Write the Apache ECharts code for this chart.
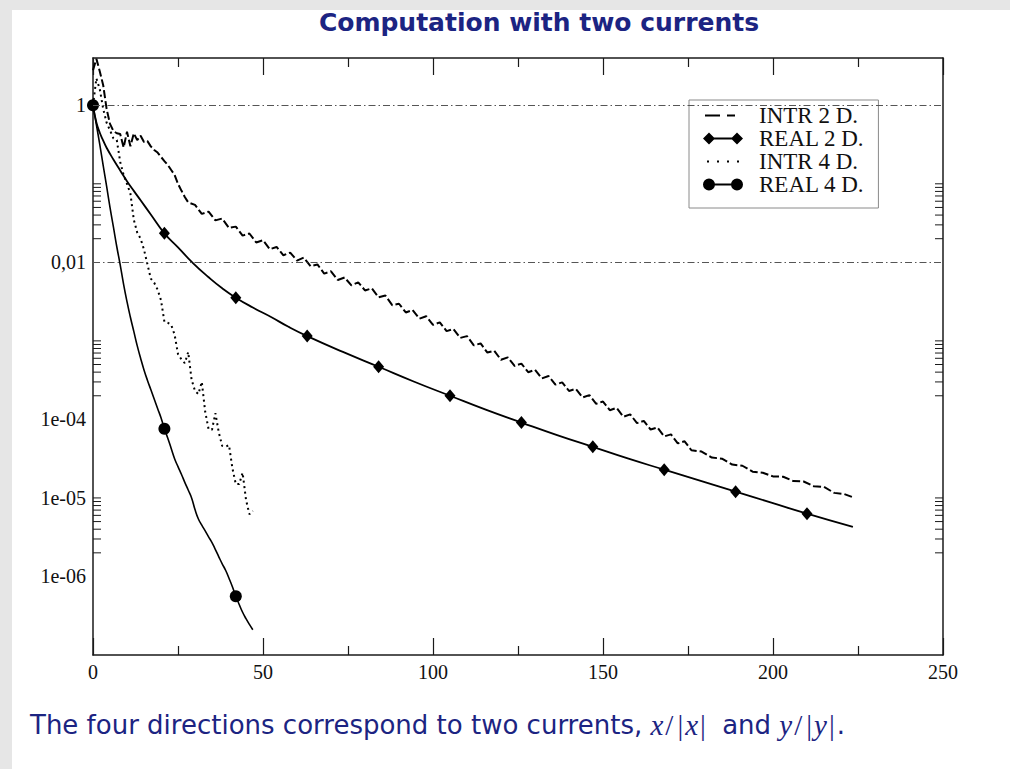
<!DOCTYPE html>
<html>
<head>
<meta charset="utf-8">
<script src="https://cdn.jsdelivr.net/npm/echarts@6/dist/echarts.min.js"></script>
<style>
html,body{margin:0;padding:0;width:1010px;height:769px;background:#e6e6e6;overflow:hidden}
#paper{position:absolute;left:12px;top:10px;right:0;bottom:0;background:#ffffff}
#chart{position:absolute;left:0;top:0;width:1010px;height:769px}
</style>
</head>
<body>
<div id="paper"></div>
<div id="chart"></div>
<script>
// ---------- data ----------
const titleText = 'Computation with two currents';
const seriesNames = ['INTR 2 D.', 'REAL 2 D.', 'INTR 4 D.', 'REAL 4 D.'];

const intr2D = [[0,2.8],[1,3.9],[2,2.7],[3,1.8],[4,0.9],[5,0.58],[6,0.47],[7,0.44],[8,0.43],[9,0.29],[10,0.46],[11,0.30],[12,0.44],[13,0.36],[14,0.41],[15,0.34],[16,0.35],[17,0.30],[18,0.27],[19,0.25],[20,0.22],[21,0.195],[22,0.174],[23,0.15],[24,0.13],[25,0.10],[26,0.082],[27,0.068],[28,0.058],
[30,0.054],[32,0.0414],[34,0.0442],[36,0.0342],[38,0.0362],[40,0.0274],[42,0.0285],[44,0.0219],[46,0.0233],[48,0.0179],[50,0.0191],[52,0.0147],[54,0.0157],[56,0.0123],[58,0.0133],[60,0.01054],[62,0.0115],[64,8.93e-3],[66,9.40e-3],[68,7.19e-3],[70,7.69e-3],[72,5.96e-3],[74,6.41e-3],[76,5.09e-3],[78,5.57e-3],[80,4.39e-3],[82,4.66e-3],[84,3.58e-3],[86,3.78e-3],[88,2.85e-3],[90,2.97e-3],[92,2.30e-3],[94,2.47e-3],[96,1.92e-3],[98,2.06e-3],[100,1.60e-3],[102,1.72e-3],[104,1.33e-3],[106,1.42e-3],[108,1.09e-3],[110,1.15e-3],[112,8.77e-4],[114,9.27e-4],[116,7.10e-4],[118,7.50e-4],[120,5.74e-4],[122,6.17e-4],[124,4.79e-4],[126,5.14e-4],[128,3.99e-4],[130,4.29e-4],[132,3.33e-4],[134,3.57e-4],[136,2.77e-4],[138,2.96e-4],[140,2.30e-4],[142,2.45e-4],[144,1.90e-4],[146,2.04e-4],[148,1.58e-4],[150,1.69e-4],[152,1.31e-4],[154,1.40e-4],[156,1.08e-4],[158,1.16e-4],[160,8.97e-5],[162,9.59e-5],[164,7.43e-5],[166,7.89e-5],[168,6.07e-5],[170,6.44e-5],[172,4.95e-5],[174,5.26e-5],[176,4.05e-5],
[179,3.89e-5],[182,3.27e-5],[185,3.16e-5],[188,2.66e-5],[191,2.57e-5],[194,2.16e-5],[197,2.09e-5],[200,1.88e-5],[203,1.86e-5],[206,1.64e-5],[209,1.62e-5],[212,1.41e-5],[215,1.38e-5],[218,1.16e-5],[221,1.12e-5],[223.5,1.02e-5]];

const real2D = [[0,1],[1,0.603],[2,0.447],[3,0.355],[4,0.288],[6,0.204],[8,0.148],[10,0.108],[12,0.0813],[14,0.0617],[17,0.0407],[21,0.0234],[25,0.0155],[29.4,9.77e-3],[34,6.46e-3],[38,4.68e-3],[42,3.55e-3],[47,2.66e-3],[52.5,2.0e-3],[57.5,1.51e-3],[63,1.15e-3],[73.5,7.24e-4],[84,4.68e-4],[94.5,3.02e-4],[105,2.0e-4],[115.5,1.33e-4],[126,9.12e-5],[136.5,6.31e-5],[147,4.47e-5],[157.5,3.16e-5],[168,2.29e-5],[178.5,1.66e-5],[189,1.2e-5],[199.5,8.71e-6],[210,6.31e-6],[223.5,4.27e-6]];
const real2DMarkX = [0,21,42,63,84,105,126,147,168,189,210];

const intr4D = [[0,1],[1,2.2],[2,1.6],[3,0.9],[4,0.6],[5,0.48],[6,0.38],[7,0.36],[8,0.19],[9,0.13],[10,0.10],[11,0.075],[12,0.035],[13,0.024],[14,0.020],[15,0.0145],[16,0.0095],[17,0.0062],[18,0.0055],[19,0.0045],[20,0.0033],[21,0.00175],[22,0.0017],[23,0.0016],[24,0.0012],[25,6.8e-4],[26,5.8e-4],[27,5.2e-4],[28,7.2e-4],[29,3.2e-4],[30,2.3e-4],[31,2.1e-4],[32,3.0e-4],[33,1.25e-4],[34,7.5e-5],[35,7.4e-5],[36,1.2e-4],[37,6.8e-5],[38,4.6e-5],[39,4.5e-5],[40,4.7e-5],[41,2.4e-5],[42,1.5e-5],[43,1.5e-5],[44,2.1e-5],[45,9.5e-6],[46,6.2e-6],[47,6.8e-6]];

const real4D = [[0,1],[1,0.562],[2,0.316],[3,0.170],[4,0.0933],[5,0.0501],[6,0.0282],[7,0.0158],[8,9.3e-3],[9,5.25e-3],[10,3.16e-3],[11,2.0e-3],[12,1.32e-3],[13,8.7e-4],[14,6.0e-4],[15,4.27e-4],[16,3.16e-4],[17,2.4e-4],[18,1.82e-4],[19,1.38e-4],[20,1.05e-4],[21,7.6e-5],[22,5.75e-5],[23,4.27e-5],[24,3.16e-5],[25,2.5e-5],[26,2.0e-5],[27,1.58e-5],[28,1.26e-5],[29,1.0e-5],[30,7.1e-6],[31,5.4e-6],[32,4.5e-6],[33,3.8e-6],[34,3.2e-6],[35,2.7e-6],[36,2.2e-6],[37,1.78e-6],[38,1.45e-6],[39,1.2e-6],[40,9.5e-7],[41,7.4e-7],[42,5.6e-7],[43,4.4e-7],[44,3.5e-7],[45,2.9e-7],[46,2.45e-7],[47,2.1e-7]];
const real4DMarkX = [0,21,42];

const yGridValues = [1, 0.01, 1e-4, 1e-5, 1e-6];
const yTickLabels = ['1', '0,01', '1e-04', '1e-05', '1e-06'];
const yMinorTicks = [0.1,0.09,0.08,0.07,0.06,0.05,0.04,0.03,0.02,
  1e-3,9e-4,8e-4,7e-4,6e-4,5e-4,4e-4,3e-4,2e-4,
  1e-5,9e-6,8e-6,7e-6,6e-6,5e-6,4e-6,3e-6,2e-6];

// ---------- chart ----------
const BLUE = '#1c2482';
const INK = '#1a1a1a';
const chart = echarts.init(document.getElementById('chart'), null, {renderer: 'svg', width: 1010, height: 769});

function yLabel(v) {
  const e = Math.log10(v);
  for (let i = 0; i < yGridValues.length; i++) {
    if (Math.abs(Math.log10(yGridValues[i]) - e) < 1e-6) return yTickLabels[i];
  }
  return '';
}

const axisLine = {show: true, onZero: false, lineStyle: {color: INK, width: 1.5}};
const tickStyle = {color: INK, width: 1.2};

const icons = {
  dash: 'path://M0 0L0 0M51 12L51 12M2 5H17V7H2ZM24 5H32V7H24Z',
  diamond: 'path://M0 0L0 0M51 12L51 12M0 6L6 0L12 6L6 12ZM6 5.1H34V6.9H6ZM28 6L34 0L40 6L34 12Z',
  dots: 'path://M0 0L0 0M51 12L51 12M4 5H6V7H4ZM14 5H16V7H14ZM24 5H26V7H24ZM34 5H36V7H34Z',
  circle: 'path://M0 0L0 0M51 12L51 12M0 6A6 6 0 1 1 12 6A6 6 0 1 1 0 6ZM6 5.1H34V6.9H6ZM28 6A6 6 0 1 1 40 6A6 6 0 1 1 28 6Z'
};

const option = {
  animation: false,
  backgroundColor: 'transparent',
  color: ['#000'],
  title: {
    text: titleText, left: 534, top: 5, textAlign: 'center',
    textStyle: {fontFamily: 'DejaVu Sans', fontSize: 25, fontWeight: 'bold', color: BLUE}
  },
  legend: {
    left: 689, top: 100, orient: 'vertical', selectedMode: false,
    padding: [4, 14, 12, 14], itemGap: 0, itemWidth: 51, itemHeight: 12,
    backgroundColor: '#ffffff', borderColor: '#8a8a8a', borderWidth: 1, borderRadius: 0,
    itemStyle: {borderWidth: 0, color: '#000'},
    textStyle: {fontFamily: 'Liberation Serif', fontSize: 23, lineHeight: 23, color: '#111'},
    data: [
      {name: seriesNames[0], icon: icons.dash},
      {name: seriesNames[1], icon: icons.diamond},
      {name: seriesNames[2], icon: icons.dots},
      {name: seriesNames[3], icon: icons.circle}
    ]
  },
  grid: {left: 93, right: 67, top: 58, bottom: 114},
  xAxis: [
    {type: 'value', min: 0, max: 250, interval: 50, position: 'bottom',
     axisLine: axisLine,
     axisTick: {show: true, inside: true, length: 17, lineStyle: tickStyle},
     minorTick: {show: true, splitNumber: 2, length: 9, lineStyle: tickStyle},
     axisLabel: {margin: 7, fontFamily: 'Liberation Serif', fontSize: 20, color: '#111'},
     splitLine: {show: false}, minorSplitLine: {show: false}},
    {type: 'value', min: 0, max: 250, interval: 50, position: 'top',
     axisLine: axisLine,
     axisTick: {show: true, inside: true, length: 17, lineStyle: tickStyle},
     minorTick: {show: true, splitNumber: 2, length: 9, lineStyle: tickStyle},
     axisLabel: {show: false},
     splitLine: {show: false}, minorSplitLine: {show: false}}
  ],
  yAxis: [
    {type: 'log', logBase: 10, min: 1e-7, max: 4, position: 'left',
     axisLine: axisLine, axisTick: {show: false}, minorTick: {show: false},
     splitLine: {show: false},
     axisLabel: {margin: 7, fontFamily: 'Liberation Serif', fontSize: 20, color: '#111', formatter: yLabel}},
    {type: 'log', logBase: 10, min: 1e-7, max: 4, position: 'right',
     axisLine: axisLine, axisTick: {show: false}, minorTick: {show: false},
     splitLine: {show: false}, axisLabel: {show: false}}
  ],
  series: [
    {
      type: 'custom', name: '_ticks', coordinateSystem: 'cartesian2d', silent: true, clip: false,
      data: yMinorTicks.map(v => [0, v]), encode: {x: 0, y: 1},
      renderItem: function (params, api) {
        const y = api.coord([0, api.value(1)])[1];
        const cs = params.coordSys;
        const st = {stroke: INK, lineWidth: 1};
        return {type: 'group', children: [
          {type: 'line', shape: {x1: cs.x, y1: y, x2: cs.x + 8, y2: y}, style: st},
          {type: 'line', shape: {x1: cs.x + cs.width - 8, y1: y, x2: cs.x + cs.width, y2: y}, style: st}
        ]};
      },
      markLine: {
        silent: true, symbol: ['none', 'none'], label: {show: false},
        lineStyle: {color: '#555555', width: 1, type: [7, 3, 1.5, 3]},
        emphasis: {disabled: true},
        data: yGridValues.map(v => ({yAxis: v}))
      }
    },
    {
      type: 'line', name: seriesNames[0], data: intr2D, symbol: 'none', showSymbol: false,
      lineStyle: {color: '#000', width: 2, type: [8, 3]}, itemStyle: {color: '#000'}
    },
    {
      type: 'line', name: seriesNames[1], data: real2D, smooth: 0.5,
      symbol: function (val) { return real2DMarkX.indexOf(val[0]) >= 0 ? 'diamond' : 'none'; },
      symbolSize: [11, 13], showAllSymbol: true,
      lineStyle: {color: '#000', width: 1.8}, itemStyle: {color: '#000', borderWidth: 0}
    },
    {
      type: 'line', name: seriesNames[2], data: intr4D, symbol: 'none', showSymbol: false,
      lineStyle: {color: '#000', width: 2, type: [2, 3.5]}, itemStyle: {color: '#000'}
    },
    {
      type: 'line', name: seriesNames[3], data: real4D, smooth: 0.5,
      symbol: function (val) { return real4DMarkX.indexOf(val[0]) >= 0 ? 'circle' : 'none'; },
      symbolSize: 12, showAllSymbol: true,
      lineStyle: {color: '#000', width: 1.6}, itemStyle: {color: '#000', borderWidth: 0}
    }
  ],
  graphic: [
    {
      type: 'text', left: 30, top: 710, silent: true,
      style: {
        text: '{a|The four directions correspond to two currents, }{m|x}{r|/}{r||}{m|x}{r||}{s| and }{m|y}{r|/}{r||}{m|y}{r||}{a|.}',
        rich: {
          a: {fontFamily: 'DejaVu Sans', fontSize: 26, fill: BLUE},
          s: {fontFamily: 'DejaVu Sans', fontSize: 26, fill: BLUE, padding: [0, 0, 0, 6]},
          m: {fontFamily: 'Liberation Serif', fontStyle: 'italic', fontSize: 29, fill: BLUE},
          r: {fontFamily: 'Liberation Serif', fontSize: 29, fill: BLUE, padding: [0, 2, 0, 2]}
        }
      }
    }
  ]
};
chart.setOption(option);
</script>
</body>
</html>
